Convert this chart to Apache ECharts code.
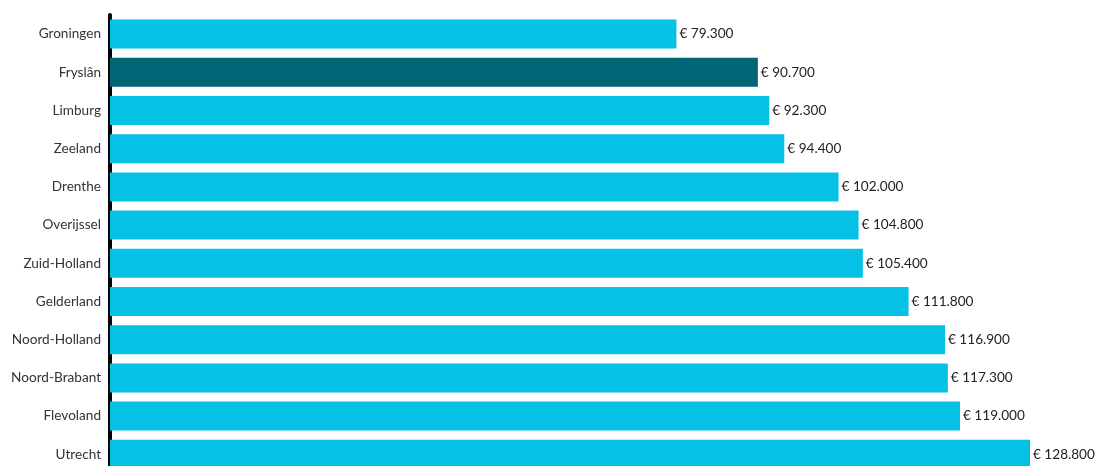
<!DOCTYPE html>
<html>
<head>
<meta charset="utf-8">
<style>
  html, body { margin: 0; padding: 0; background: #fff; }
  #chart { width: 1098px; height: 466px; }
</style>
<script src="https://cdn.jsdelivr.net/npm/echarts@6/dist/echarts.min.js"></script>
</head>
<body>
<div id="chart"></div>
<script>
// Provinces, top to bottom
const provinces = ['Groningen', 'Fryslân', 'Limburg', 'Zeeland', 'Drenthe', 'Overijssel',
  'Zuid-Holland', 'Gelderland', 'Noord-Holland', 'Noord-Brabant', 'Flevoland', 'Utrecht'];
// Value per province in euro
const values = [79300, 90700, 92300, 94400, 102000, 104800, 105400, 111800, 116900, 117300, 119000, 128800];
// Province drawn in the accent colour
const highlighted = 'Fryslân';

const BASE = '#06c1e6';
const ACCENT = '#006575';

function euro(v) {
  return '€ ' + String(v).replace(/\B(?=(\d{3})+(?!\d))/g, '.');
}

const chart = echarts.init(document.getElementById('chart'));
chart.setOption({
  animation: false,
  // the last row runs past the bottom edge of the canvas
  grid: {
    left: 110, width: 928.57, top: 15, height: 458.4,
    containLabel: false, outerBoundsMode: 'none'
  },
  xAxis: {
    type: 'value', min: 0, max: 130000,
    show: false
  },
  yAxis: {
    type: 'category',
    inverse: true,
    data: provinces,
    axisLine: { show: true, lineStyle: { color: '#000', width: 4 } },
    axisTick: { show: false },
    axisLabel: { color: '#333', fontFamily: 'Lato', fontSize: 13.6, margin: 9 }
  },
  series: [{
    type: 'bar',
    barCategoryGap: '24%',
    data: values.map((v, i) => ({
      value: v,
      itemStyle: { color: provinces[i] === highlighted ? ACCENT : BASE }
    })),
    label: {
      show: true, position: 'right', distance: 3,
      color: '#222', fontFamily: 'Lato', fontSize: 13.6,
      formatter: p => euro(p.value)
    }
  }]
});
</script>
</body>
</html>
